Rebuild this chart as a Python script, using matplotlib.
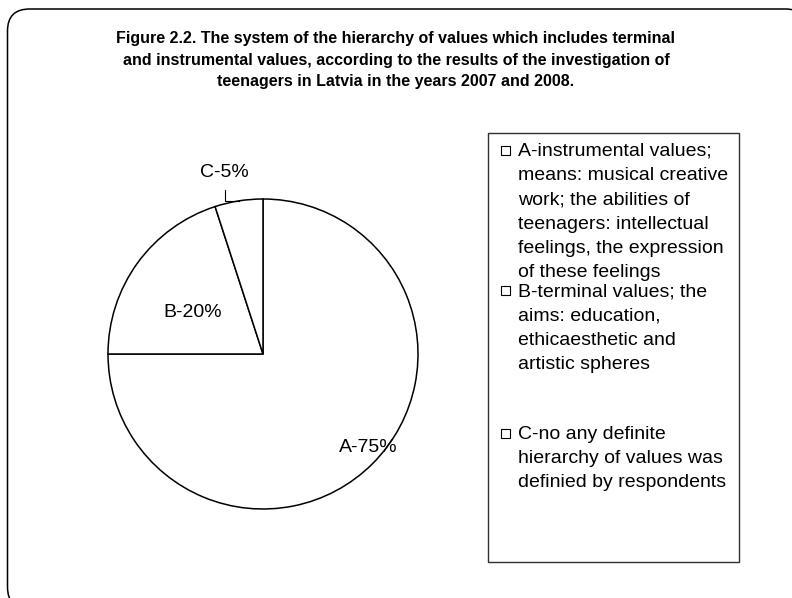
import numpy as np
import matplotlib
matplotlib.use("Agg")
import matplotlib.pyplot as plt
import matplotlib.patches as mpatches

# ---- data ----
labels = ["A", "B", "C"]
values = [75, 20, 5]
legend_texts = [
    "A-instrumental values;\nmeans: musical creative\nwork; the abilities of\nteenagers: intellectual\nfeelings, the expression\nof these feelings",
    "B-terminal values; the\naims: education,\nethicaesthetic and\nartistic spheres",
    "C-no any definite\nhierarchy of values was\ndefinied by respondents",
]
title = ("Figure 2.2. The system of the hierarchy of values which includes terminal\n"
         "and instrumental values, according to the results of the investigation of\n"
         "teenagers in Latvia in the years 2007 and 2008.")

plt.rcParams["font.family"] = ["Liberation Sans", "DejaVu Sans"]

W, H = 792, 598
fig = plt.figure(figsize=(W / 100, H / 100), dpi=100)
fig.patch.set_facecolor("white")

# background axes in pixel coordinates
bg = fig.add_axes([0, 0, 1, 1])
bg.set_xlim(0, W)
bg.set_ylim(H, 0)
bg.axis("off")

frame = mpatches.FancyBboxPatch((7.5, 9), 800, 600,
                                boxstyle="round,pad=0,rounding_size=22",
                                facecolor="white", edgecolor="black", lw=1.1)
bg.add_patch(frame)

bg.text(396, 60, title, ha="center", va="center", fontsize=11.5,
        fontweight="bold", linespacing=1.58)

# legend box
lx0, ly0, lx1, ly1 = 488, 133, 739, 562
bg.add_patch(mpatches.Rectangle((lx0, ly0), lx1 - lx0, ly1 - ly0,
                                facecolor="white", edgecolor="#303030", lw=1.0))
entry_baselines = [156, 296.5, 439]
line_step = 24.2
for txt, by in zip(legend_texts, entry_baselines):
    bg.add_patch(mpatches.Rectangle((501, by - 10.5), 9, 9, facecolor="white",
                                    edgecolor="black", lw=0.8))
    for i, line in enumerate(txt.split("\n")):
        bg.text(518, by + i * line_step, line, ha="left", va="baseline",
                fontsize=14, color="black")

# pie axes
cx, cy, r = 263, 354, 155
pax = fig.add_axes([(cx - r) / W, (H - cy - r) / H, 2 * r / W, 2 * r / H])
wedges, _ = pax.pie(values, startangle=90, counterclock=False,
                    colors=["white"] * 3,
                    wedgeprops=dict(edgecolor="black", linewidth=1.1))
pax.set_xlim(-1, 1)
pax.set_ylim(-1, 1)
pax.set_aspect("equal")
pax.axis("off")

label_pos = {"A": (0.677, -0.60), "B": (-0.455, 0.265), "C": (-0.252, 1.168)}
for lab, v in zip(labels, values):
    x, y = label_pos[lab]
    pax.text(x, y, f"{lab}-{v}%", ha="center", va="center", fontsize=14,
             clip_on=False)

# leader line for C
wc = wedges[2]
mid = np.deg2rad((wc.theta1 + wc.theta2) / 2)
ex, ey = np.cos(mid), np.sin(mid)
pax.plot([-0.245, -0.245, ex], [1.06, ey, ey], color="black", lw=0.8,
         clip_on=False)

fig.savefig("out.png", dpi=100)
